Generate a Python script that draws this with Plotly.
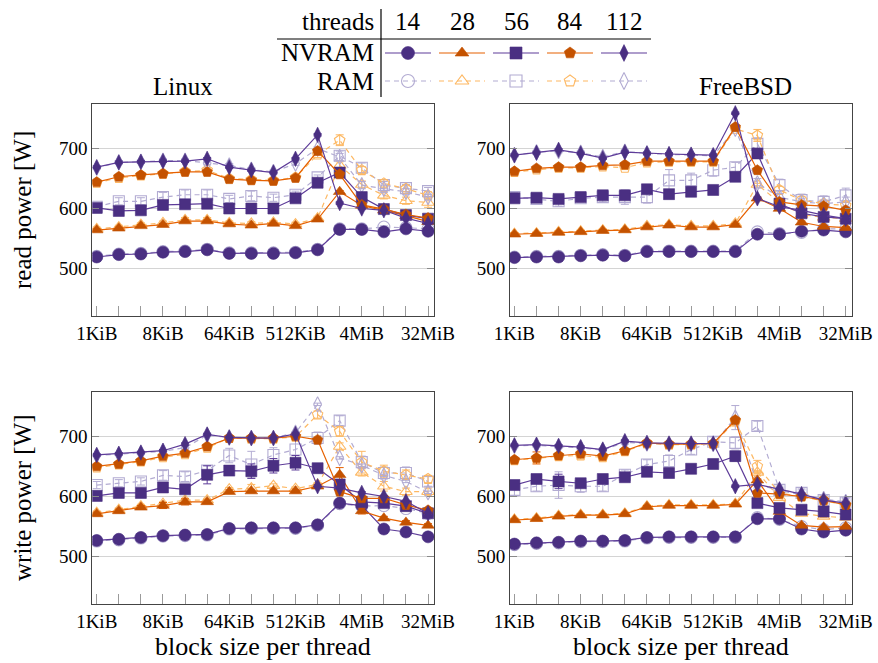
import numpy as np
import plotly.graph_objects as go

W, H = 878, 663
FONT = "Liberation Serif"

threads = [14, 28, 56, 84, 112]
block_kib = [2 ** i for i in range(16)]
tick_labels = {1: "1KiB", 8: "8KiB", 64: "64KiB", 512: "512KiB", 4096: "4MiB", 32768: "32MiB"}
y_ticks = [500, 600, 700]

# ---------------- data (W) ----------------
linux_read_nvram = {
    14: [519, 523, 524, 527, 528, 531, 525, 525, 525, 526, 531, 565, 565, 561, 566, 562],
    28: [564, 567, 571, 573, 579, 579, 574, 572, 575, 571, 582, 628, 605, 597, 588, 578],
    56: [601, 596, 597, 606, 607, 608, 600, 600, 600, 617, 643, 660, 619, 599, 589, 583],
    84: [644, 653, 656, 658, 661, 661, 649, 647, 646, 651, 696, 657, 606, 599, 590, 584],
    112: [669, 677, 678, 679, 679, 683, 669, 664, 660, 683, 723, 609, 600, 597, 584, 575],
}
linux_read_ram = {
    14: [520, 524, 525, 528, 529, 532, 526, 526, 526, 527, 532, 566, 566, 569, 568, 566],
    28: [566, 569, 573, 576, 581, 581, 576, 575, 577, 574, 584, 672, 640, 622, 613, 610],
    56: [603, 612, 612, 619, 623, 623, 616, 621, 618, 623, 652, 688, 668, 639, 634, 629],
    84: [643, 651, 655, 658, 662, 664, 650, 648, 647, 652, 690, 714, 664, 642, 633, 622],
    112: [668, 677, 678, 680, 680, 676, 672, 665, 661, 675, 700, 686, 639, 633, 628, 619],
}
freebsd_read_nvram = {
    14: [518, 519, 519, 521, 522, 521, 528, 528, 528, 528, 528, 557, 557, 562, 564, 561],
    28: [557, 558, 560, 561, 563, 564, 569, 572, 569, 569, 573, 617, 600, 577, 570, 568],
    56: [617, 618, 616, 619, 622, 622, 632, 624, 628, 631, 653, 692, 608, 592, 586, 583],
    84: [662, 667, 669, 669, 672, 673, 679, 679, 679, 679, 736, 664, 611, 606, 604, 597],
    112: [689, 693, 698, 692, 684, 694, 692, 691, 690, 689, 759, 617, 603, 597, 589, 583],
}
freebsd_read_ram = {
    14: [519, 520, 520, 522, 523, 522, 529, 529, 529, 529, 529, 561, 558, 560, 566, 566],
    28: [558, 559, 561, 562, 564, 565, 571, 573, 571, 571, 575, 640, 610, 590, 585, 583],
    56: [619, 616, 612, 617, 619, 619, 619, 647, 647, 664, 669, 708, 639, 614, 611, 622],
    84: [661, 665, 668, 668, 670, 668, 677, 678, 678, 678, 733, 722, 631, 614, 608, 605],
    112: [689, 694, 696, 693, 686, 695, 692, 690, 689, 688, 733, 642, 619, 611, 608, 611],
}
linux_write_nvram = {
    14: [527, 529, 532, 535, 536, 537, 547, 548, 548, 548, 553, 589, 585, 546, 541, 533],
    28: [571, 576, 582, 585, 591, 591, 608, 609, 609, 609, 617, 636, 576, 564, 557, 552],
    56: [601, 606, 606, 615, 612, 636, 643, 642, 651, 656, 647, 620, 591, 589, 584, 572],
    84: [650, 654, 659, 667, 672, 683, 697, 697, 697, 700, 694, 608, 597, 597, 586, 577],
    112: [669, 671, 673, 676, 687, 703, 698, 697, 697, 704, 617, 614, 606, 600, 592, 572],
}
linux_write_ram = {
    14: [526, 528, 531, 534, 535, 536, 546, 547, 547, 547, 552, 588, 584, 585, 580, 572],
    28: [573, 578, 584, 588, 594, 594, 612, 614, 618, 613, 620, 683, 640, 617, 608, 608],
    56: [619, 622, 625, 635, 633, 643, 668, 653, 669, 678, 697, 726, 657, 639, 639, 625],
    84: [648, 653, 658, 665, 670, 681, 697, 696, 696, 699, 736, 708, 657, 642, 636, 629],
    112: [668, 670, 672, 675, 681, 702, 698, 697, 697, 706, 753, 664, 652, 635, 625, 607],
}
freebsd_write_nvram = {
    14: [521, 523, 524, 526, 526, 527, 532, 533, 533, 533, 533, 563, 563, 546, 541, 544],
    28: [561, 563, 567, 569, 569, 571, 583, 585, 585, 585, 587, 627, 575, 552, 549, 550],
    56: [619, 629, 625, 622, 629, 632, 641, 639, 646, 654, 667, 589, 581, 578, 575, 570],
    84: [661, 664, 668, 671, 667, 676, 689, 687, 687, 688, 727, 606, 604, 600, 594, 586],
    112: [685, 686, 684, 682, 678, 692, 689, 688, 688, 688, 617, 620, 612, 604, 594, 589],
}
freebsd_write_ram = {
    14: [520, 522, 523, 525, 525, 526, 531, 532, 532, 532, 532, 565, 562, 550, 545, 548],
    28: [562, 564, 568, 570, 570, 572, 584, 586, 586, 586, 588, 640, 598, 572, 567, 565],
    56: [611, 617, 619, 617, 617, 636, 653, 659, 678, 691, 689, 717, 611, 606, 594, 590],
    84: [660, 663, 667, 668, 665, 675, 688, 686, 686, 687, 725, 650, 606, 600, 593, 586],
    112: [684, 685, 683, 681, 677, 690, 688, 687, 687, 687, 731, 620, 610, 603, 596, 591],
}

# error bars (± W) where visible
linux_read_ram_err = {
    28: [3, 3, 3, 3, 4, 4, 3, 3, 3, 3, 3, 6, 6, 6, 6, 8],
    56: [4, 6, 6, 8, 8, 8, 6, 8, 6, 6, 4, 8, 8, 6, 6, 6],
    84: [3, 3, 3, 3, 3, 4, 3, 3, 3, 3, 5, 9, 6, 6, 5, 6],
    112: [3, 3, 3, 3, 3, 3, 3, 3, 3, 3, 3, 6, 6, 6, 5, 5],
}
linux_read_nvram_err = {56: [3, 3, 3, 3, 3, 3, 3, 3, 3, 3, 3, 3, 5, 4, 4, 4]}
freebsd_read_ram_err = {
    56: [8, 6, 8, 6, 8, 12, 10, 18, 12, 10, 8, 10, 10, 10, 10, 12],
    84: [3, 3, 3, 3, 3, 3, 3, 3, 3, 3, 4, 10, 6, 6, 6, 6],
    112: [3, 3, 3, 3, 3, 3, 3, 3, 3, 3, 4, 8, 6, 6, 6, 8],
}
freebsd_read_nvram_err = {56: [6, 5, 6, 5, 5, 6, 6, 5, 8, 6, 6, 6, 6, 6, 6, 6]}
linux_write_ram_err = {
    28: [3, 3, 3, 3, 3, 3, 3, 6, 3, 3, 3, 6, 6, 8, 6, 6],
    56: [6, 6, 6, 8, 8, 8, 12, 22, 12, 18, 10, 8, 10, 10, 10, 8],
    84: [3, 3, 3, 3, 3, 3, 3, 3, 3, 3, 6, 8, 18, 10, 8, 6],
}
linux_write_nvram_err = {
    28: [3, 3, 3, 5, 5, 3, 3, 3, 3, 3, 3, 12, 5, 3, 3, 3],
    56: [3, 3, 3, 5, 5, 15, 8, 12, 12, 12, 5, 5, 5, 5, 5, 5],
}
freebsd_write_ram_err = {
    56: [10, 8, 22, 10, 8, 8, 8, 10, 8, 8, 10, 8, 8, 8, 8, 8],
    84: [3, 3, 3, 6, 6, 3, 3, 3, 3, 3, 8, 10, 6, 6, 6, 8],
    112: [3, 3, 3, 3, 3, 3, 3, 3, 3, 3, 20, 6, 6, 8, 6, 6],
}
freebsd_write_nvram_err = {
    56: [5, 5, 12, 5, 5, 5, 5, 6, 5, 6, 8, 5, 5, 5, 5, 5],
    84: [3, 10, 3, 3, 3, 3, 3, 3, 3, 3, 3, 3, 3, 3, 3, 3],
}

# ---------------- styles ----------------
PURPLE = "#5e3c99"
PURPLE_DARK = "#4a2f82"
ORANGE = "#e66101"
ORANGE_DARK = "#c45200"
PURPLE_LIGHT = "#b2abd2"
ORANGE_LIGHT = "#fdb863"

symbols = {14: "circle", 28: "triangle-up", 56: "square", 84: "pentagon", 112: "diamond-tall"}
msize = {14: 12, 28: 11, 56: 11, 84: 11, 112: 11}
is_purple = {14: True, 28: False, 56: True, 84: False, 112: True}


def style(t, mem):
    if mem == "NVRAM":
        if is_purple[t]:
            return PURPLE, PURPLE_DARK, symbols[t], "solid"
        return ORANGE, ORANGE_DARK, symbols[t], "solid"
    col = PURPLE_LIGHT if is_purple[t] else ORANGE_LIGHT
    return col, col, symbols[t] + "-open", "5px,4px"


fig = go.Figure()

panels = [
    ("x", "y", linux_read_nvram, linux_read_ram, linux_read_nvram_err, linux_read_ram_err),
    ("x2", "y2", freebsd_read_nvram, freebsd_read_ram, freebsd_read_nvram_err, freebsd_read_ram_err),
    ("x3", "y3", linux_write_nvram, linux_write_ram, linux_write_nvram_err, linux_write_ram_err),
    ("x4", "y4", freebsd_write_nvram, freebsd_write_ram, freebsd_write_nvram_err, freebsd_write_ram_err),
]

for xa, ya, nv, ram, nv_err, ram_err in panels:
    for mem, data, errs in [("RAM", ram, ram_err), ("NVRAM", nv, nv_err)]:
        for t in threads:
            lc, mc, sym, dash = style(t, mem)
            err = errs.get(t, [2] * len(block_kib))
            fig.add_trace(go.Scatter(
                x=block_kib, y=data[t], xaxis=xa, yaxis=ya,
                mode="lines+markers",
                line=dict(color=lc, width=1.2, dash=dash),
                marker=dict(symbol=sym, size=msize[t], color=mc,
                            line=dict(color=mc, width=1.1 if mem == "RAM" else 0.6)),
                error_y=dict(type="data", array=err, color=lc, thickness=1, width=4),
                showlegend=False, name=f"{mem} {t}",
            ))

# ---------------- axes ----------------
L2 = np.log10(2)
xrange_ = [L2 * -0.2, L2 * 15.27]
yrange_ = [421, 774]
xdom_left = [92.3 / W, 434 / W]
xdom_right = [510 / W, 851.7 / W]
ydom_top = [1 - 315.7 / H, 1 - 104.3 / H]
ydom_bot = [1 - 604.3 / H, 1 - 391.7 / H]

tickfont = dict(family=FONT, size=19, color="black")


def xaxis(dom, anchor):
    return dict(type="log", range=xrange_, domain=dom, anchor=anchor, automargin=False,
                tickmode="array", tickvals=block_kib,
                ticktext=[tick_labels.get(b, "") for b in block_kib],
                ticks="inside", ticklen=10, tickcolor="#9a9a9a", tickwidth=1,
                showline=True, linecolor="#444444", linewidth=1, mirror=True,
                showgrid=False, zeroline=False, tickfont=tickfont)


def xaxis_top(over, anchor):
    return dict(type="log", range=xrange_, overlaying=over, anchor=anchor, side="top",
                automargin=False,
                tickmode="array", tickvals=block_kib, showticklabels=False,
                ticks="inside", ticklen=5, tickcolor="#9a9a9a", tickwidth=1,
                showline=False, showgrid=False, zeroline=False)


def yaxis(dom, anchor):
    return dict(range=yrange_, domain=dom, anchor=anchor, automargin=False,
                tickmode="array", tickvals=y_ticks,
                ticks="inside", ticklen=7, tickcolor="#8a8a8a", tickwidth=1,
                showline=True, linecolor="#444444", linewidth=1, mirror="ticks",
                showgrid=True, gridcolor="#d4d4d4", gridwidth=1.4, zeroline=False,
                tickfont=tickfont)


layout = dict(
    width=W, height=H, margin=dict(l=0, r=0, t=0, b=0, pad=0, autoexpand=False),
    paper_bgcolor="white", plot_bgcolor="rgba(0,0,0,0)", showlegend=False,
    xaxis=xaxis(xdom_left, "y"), yaxis=yaxis(ydom_top, "x"),
    xaxis2=xaxis(xdom_right, "y2"), yaxis2=yaxis(ydom_top, "x2"),
    xaxis3=xaxis(xdom_left, "y3"), yaxis3=yaxis(ydom_bot, "x3"),
    xaxis4=xaxis(xdom_right, "y4"), yaxis4=yaxis(ydom_bot, "x4"),
    xaxis5=xaxis_top("x", "y"), xaxis6=xaxis_top("x2", "y2"),
    xaxis7=xaxis_top("x3", "y3"), xaxis8=xaxis_top("x4", "y4"),
    xaxis9=dict(domain=[0, 1], range=[0, W], visible=False, anchor="y9", fixedrange=True),
    yaxis9=dict(domain=[0, 1], range=[H, 0], visible=False, anchor="x9", fixedrange=True),
)
fig.update_layout(**layout)

# ---------------- titles ----------------
tfont = dict(family=FONT, size=25, color="black")
xtfont = dict(family=FONT, size=26, color="black")


def px(x):
    return x / W


def py(y):
    return 1 - y / H


annos = [
    dict(text="Linux", x=px(183), y=py(87), font=tfont),
    dict(text="FreeBSD", x=px(745), y=py(87), font=tfont),
    dict(text="block size per thread", x=px(263), y=py(646), font=xtfont),
    dict(text="block size per thread", x=px(681), y=py(646), font=xtfont),
    dict(text="read power [W]", x=px(22), y=py(210), textangle=-90, font=tfont),
    dict(text="write power [W]", x=px(22), y=py(498), textangle=-90, font=tfont),
]
for a in annos:
    fig.add_annotation(xref="paper", yref="paper", showarrow=False,
                       xanchor="center", yanchor="middle", **a)

# ---------------- table legend ----------------
LEG_LABEL_X = 376
LEG_COL_X0 = 408
LEG_COL_STEP = 54
LEG_HALF = 23
ROW_Y = {"threads": 22, "NVRAM": 53, "RAM": 81}

for lbl, yy in ROW_Y.items():
    fig.add_annotation(xref="paper", yref="paper", showarrow=False, font=tfont,
                       text=lbl, x=px(LEG_LABEL_X), y=py(yy), xanchor="right", yanchor="middle")

for k, t in enumerate(threads):
    cx = LEG_COL_X0 + k * LEG_COL_STEP
    fig.add_annotation(xref="paper", yref="paper", showarrow=False, font=tfont,
                       text=str(t), x=px(cx), y=py(ROW_Y["threads"]),
                       xanchor="center", yanchor="middle")
    for mem in ["NVRAM", "RAM"]:
        lc, mc, sym, dash = style(t, mem)
        yy = ROW_Y[mem]
        fig.add_trace(go.Scatter(x=[cx - LEG_HALF, cx + LEG_HALF], y=[yy, yy], xaxis="x9", yaxis="y9",
                                 mode="lines", line=dict(color=lc, width=1.2, dash=dash),
                                 showlegend=False, hoverinfo="skip"))
        fig.add_trace(go.Scatter(x=[cx], y=[yy], xaxis="x9", yaxis="y9", mode="markers",
                                 marker=dict(symbol=sym, size=msize[t] + 1, color=mc,
                                             line=dict(color=mc, width=1.1 if mem == "RAM" else 0.6)),
                                 showlegend=False, hoverinfo="skip"))

fig.add_shape(type="line", xref="paper", yref="paper", x0=px(277), x1=px(651), y0=py(39), y1=py(39),
              line=dict(color="black", width=1.2))
fig.add_shape(type="line", xref="paper", yref="paper", x0=px(381), x1=px(381), y0=py(9), y1=py(97),
              line=dict(color="black", width=1.2))

fig.write_html("out.html", config={"displayModeBar": False},
               post_script="document.body.style.margin='0px';")
